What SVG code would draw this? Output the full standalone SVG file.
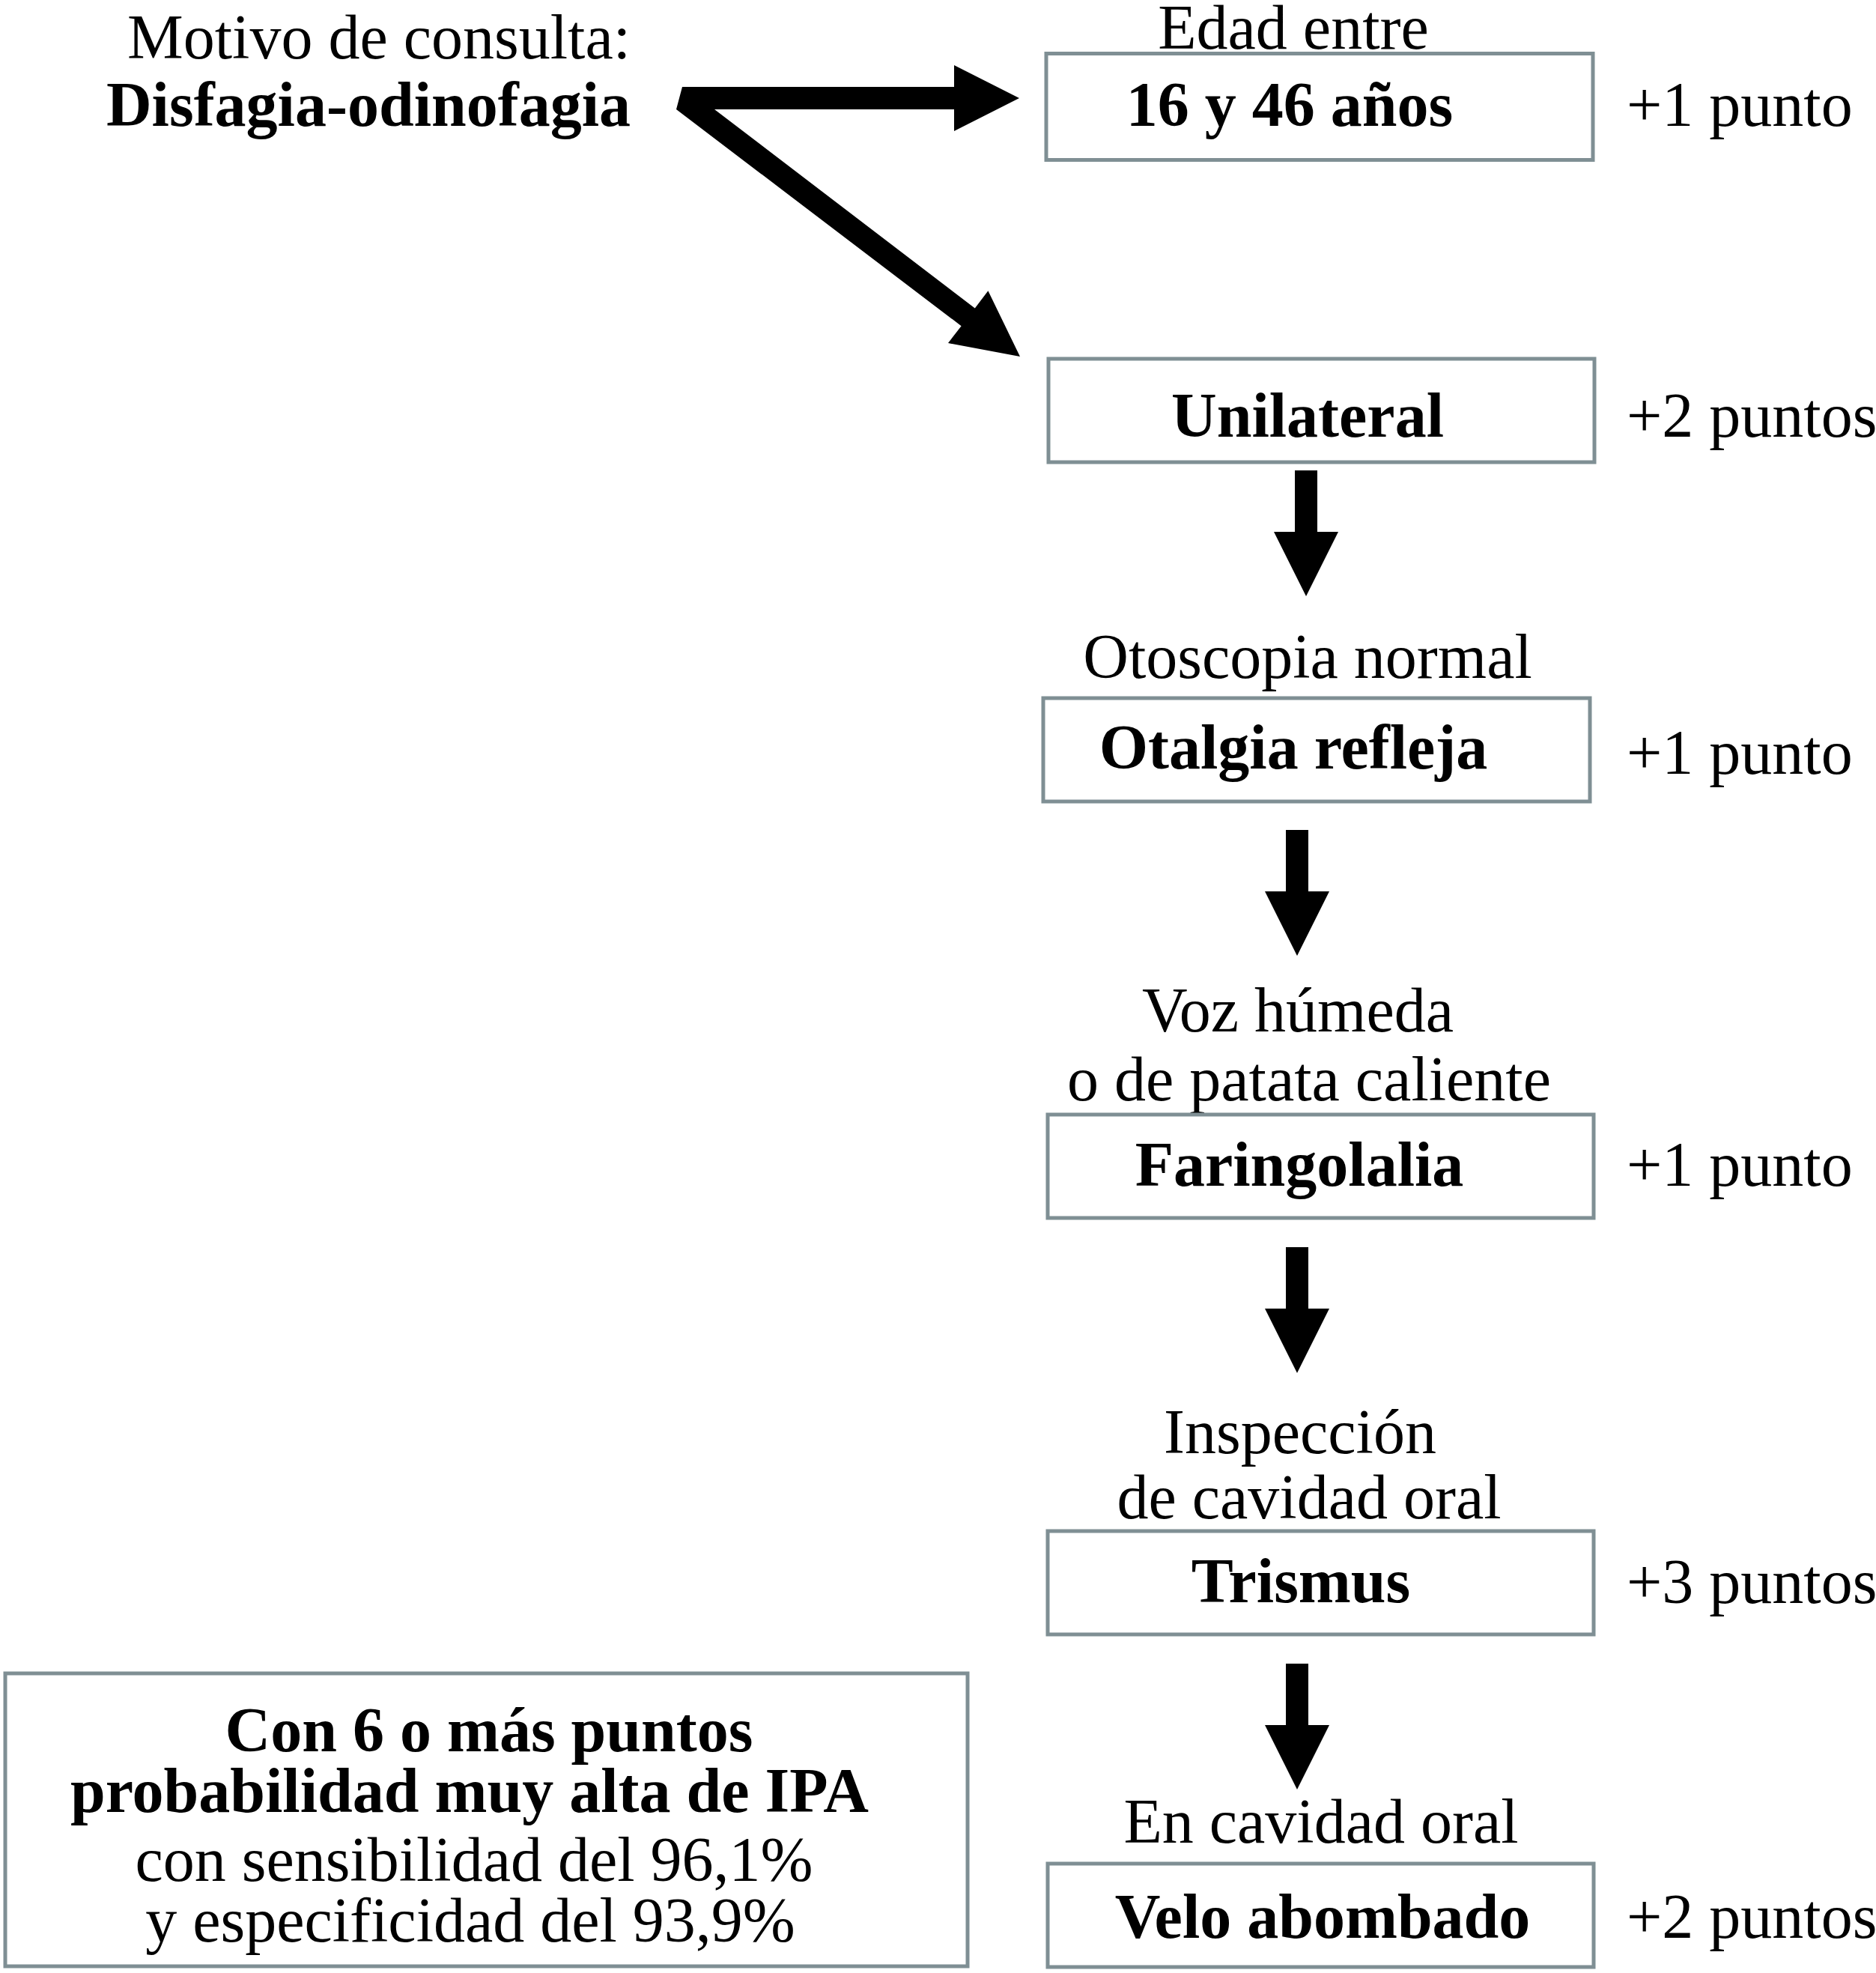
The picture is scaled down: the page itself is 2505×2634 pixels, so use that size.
<svg xmlns="http://www.w3.org/2000/svg" width="2505" height="2634" viewBox="0 0 2505 2634">
<style>
.t{font-family:"Liberation Serif","Times New Roman",serif;font-size:84px;fill:#000}
.b{font-weight:bold}
.m{text-anchor:middle}
.e{text-anchor:end}
.box{fill:#fff;stroke:#7f8f94;stroke-width:5}
.arr{fill:#000}
</style>
<defs>
<path id="down" d="M-15,0 H15 V82 H43 L0,168 L-43,82 H-15 Z"/>
</defs>
<rect width="2505" height="2634" fill="#fff"/>
<g id="start">
<text class="t e" x="842" y="78">Motivo de consulta:</text>
<text class="t b e" x="842" y="168">Disfagia-odinofagia</text>
</g>
<g id="edad">
<text class="t m" x="1727" y="65">Edad entre</text>
<rect class="box" x="1397" y="71.5" width="730" height="142"/>
<text class="t b m" x="1722" y="168">16 y 46 años</text>
<text class="t" x="2172" y="168">+1 punto</text>
</g>
<g id="unilateral">
<rect class="box" x="1400" y="479" width="729" height="138"/>
<text class="t b m" x="1746" y="583">Unilateral</text>
<text class="t" x="2172" y="583">+2 puntos</text>
</g>
<g id="otalgia">
<text class="t m" x="1746" y="905">Otoscopia normal</text>
<rect class="box" x="1393" y="932" width="730" height="138"/>
<text class="t b m" x="1727" y="1026">Otalgia refleja</text>
<text class="t" x="2172" y="1033">+1 punto</text>
</g>
<g id="faringolalia">
<text class="t m" x="1733" y="1377">Voz húmeda</text>
<text class="t m" x="1748" y="1469">o de patata caliente</text>
<rect class="box" x="1399" y="1488" width="729" height="138"/>
<text class="t b m" x="1735" y="1583">Faringolalia</text>
<text class="t" x="2172" y="1583">+1 punto</text>
</g>
<g id="trismus">
<text class="t m" x="1736" y="1940">Inspección</text>
<text class="t m" x="1748" y="2027">de cavidad oral</text>
<rect class="box" x="1399" y="2044" width="729" height="138"/>
<text class="t b m" x="1737" y="2139">Trismus</text>
<text class="t" x="2172" y="2140">+3 puntos</text>
</g>
<g id="velo">
<text class="t m" x="1764" y="2460">En cavidad oral</text>
<rect class="box" x="1399" y="2488" width="729" height="138"/>
<text class="t b m" x="1766" y="2587">Velo abombado</text>
<text class="t" x="2172" y="2587">+2 puntos</text>
</g>
<g id="resultado">
<rect class="box" x="7" y="2234" width="1285" height="391"/>
<text class="t b m" x="653" y="2338">Con 6 o más puntos</text>
<text class="t b m" x="627" y="2419">probabilidad muy alta de IPA</text>
<text class="t m" x="633" y="2511">con sensibilidad del 96,1%</text>
<text class="t m" x="628" y="2592">y especificidad del 93,9%</text>
</g>
<g id="connectors">
<polygon class="arr" points="911,116 1274,116 1274,87 1361,131 1274,175 1274,146 954,146 1301.8,411.4 1319.4,388.3 1362,476 1266,458 1283.6,435.2 903,146"/>
<use href="#down" class="arr" x="1744" y="628"/>
<use href="#down" class="arr" x="1732" y="1108"/>
<use href="#down" class="arr" x="1732" y="1665"/>
<use href="#down" class="arr" x="1732" y="2221"/>
</g>
</svg>
